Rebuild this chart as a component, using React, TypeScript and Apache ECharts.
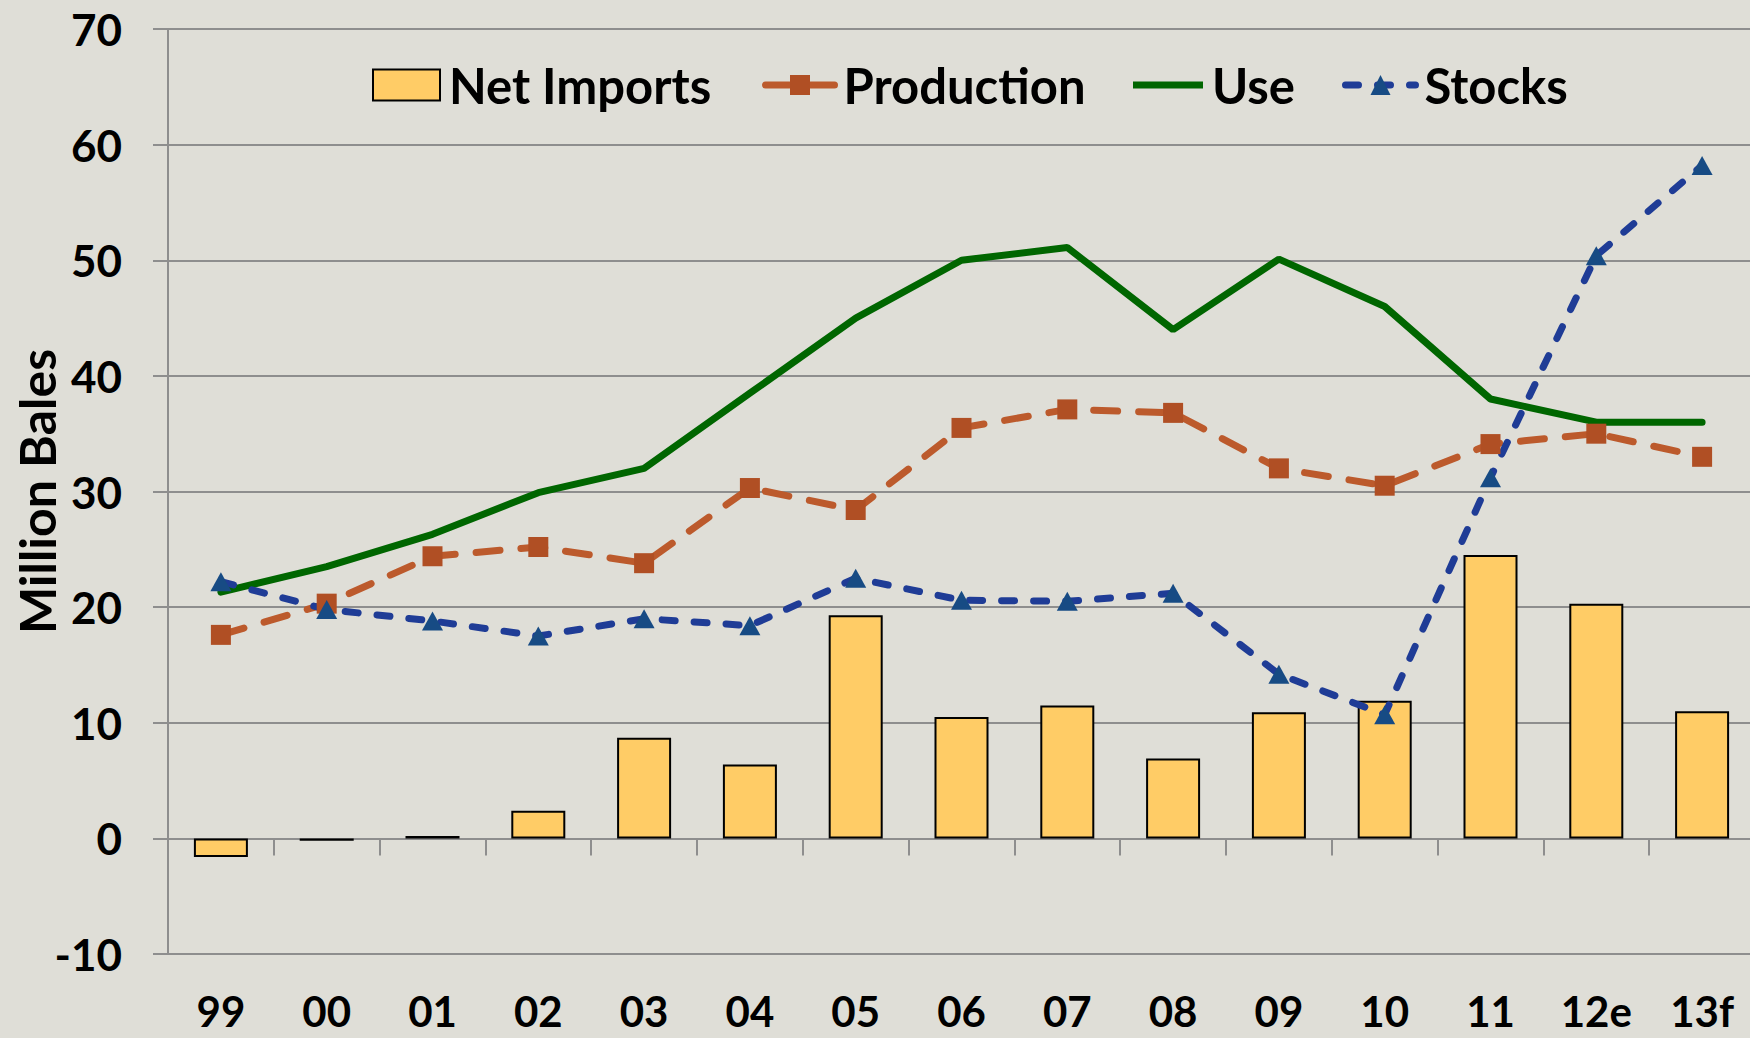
import React, { useEffect, useRef } from "react";
import * as echarts from "echarts";

const categories = ["99", "00", "01", "02", "03", "04", "05", "06", "07", "08", "09", "10", "11", "12e", "13f"];
const netImports = [-1.6, -0.2, 0.2, 2.4, 8.7, 6.4, 19.3, 10.5, 11.5, 6.9, 10.9, 11.9, 24.5, 20.3, 11.0];
const production = [17.6, 20.3, 24.4, 25.2, 23.8, 30.3, 28.4, 35.5, 37.1, 36.8, 32.0, 30.5, 34.1, 35.0, 33.0];
const use = [21.3, 23.5, 26.3, 29.9, 32.0, 38.5, 45.0, 50.0, 51.1, 44.0, 50.1, 46.0, 38.0, 36.0, 36.0];
const stocks = [22.2, 19.8, 18.8, 17.5, 19.0, 18.4, 22.5, 20.6, 20.5, 21.2, 14.2, 10.7, 31.2, 50.4, 58.2];
const yTicks = { min: -10, max: 70, interval: 10 };
const seriesNames = ["Net Imports", "Production", "Use", "Stocks"];

const FONT = "Lato, 'Noto Sans', sans-serif";
const GRID_GRAY = "#8e8e8e";

export default function App() {
  const ref = useRef<HTMLDivElement>(null);
  useEffect(() => {
    if (!ref.current) return;
    const chart = echarts.init(ref.current, null, { renderer: "svg" });
    const legendText = {
      fontFamily: FONT,
      fontWeight: "bold",
      fontSize: 49,
      color: "#000",
      lineHeight: 50,
      padding: [0, 0, 0, 4],
    };
    const legendLefts = [372, 762, 1133, 1342];
    const legendSizes = [
      [67, 31],
      [69, 25],
      [70, 7],
      [70, 25],
    ];
    chart.setOption({
      animation: false,
      backgroundColor: "#dfded7",
      grid: {
        left: 168,
        right: -5,
        top: 29,
        bottom: 84,
        containLabel: false,
        outerBoundsMode: "none",
      },
      legend: seriesNames.map((n, i) => ({
        data: n === "Use" || n === "Net Imports" ? [{ name: n, icon: "rect" }] : [n],
        left: legendLefts[i],
        top: 60,
        padding: 0,
        itemWidth: legendSizes[i][0],
        itemHeight: legendSizes[i][1],
        textStyle: legendText,
        lineStyle: { width: 7 },
        selectedMode: false,
      })),
      xAxis: [
        {
          type: "category",
          data: categories,
          axisLine: { onZero: true, lineStyle: { color: GRID_GRAY, width: 2 } },
          axisTick: { show: true, length: 17, lineStyle: { color: GRID_GRAY, width: 2 } },
          axisLabel: { show: false },
        },
        {
          type: "category",
          data: categories,
          position: "bottom",
          axisLine: { show: false, onZero: false },
          axisTick: { show: false },
          axisLabel: {
            fontFamily: FONT,
            fontWeight: "bold",
            fontSize: 42,
            lineHeight: 40,
            color: "#000",
            margin: 37,
          },
        },
      ],
      yAxis: {
        type: "value",
        min: yTicks.min,
        max: yTicks.max,
        interval: yTicks.interval,
        name: "Million Bales",
        nameLocation: "middle",
        nameRotate: 90,
        nameGap: 106,
        nameMoveOverlap: false,
        nameTextStyle: { fontFamily: FONT, fontWeight: "bold", fontSize: 50, lineHeight: 50, color: "#000" },
        axisLine: { show: true, lineStyle: { color: GRID_GRAY, width: 2 } },
        axisTick: { show: true, length: 15, lineStyle: { color: GRID_GRAY, width: 2 } },
        axisLabel: { fontFamily: FONT, fontWeight: "bold", fontSize: 44, color: "#000", margin: 46 },
        splitLine: { show: true, lineStyle: { color: GRID_GRAY, width: 2 } },
      },
      series: [
        {
          name: "Net Imports",
          type: "bar",
          data: netImports,
          barWidth: 54,
          itemStyle: { color: "#ffcc66", borderColor: "#000", borderWidth: 2 },
        },
        {
          name: "Production",
          type: "line",
          data: production,
          symbol: "rect",
          symbolSize: 20,
          itemStyle: { color: "#b04f24" },
          lineStyle: { color: "#bc5a2c", width: 7, type: [24, 21], cap: "round" },
        },
        {
          name: "Use",
          type: "line",
          data: use,
          symbol: "none",
          itemStyle: { color: "#006600" },
          lineStyle: { color: "#006600", width: 7, cap: "round" },
        },
        {
          name: "Stocks",
          type: "line",
          data: stocks,
          symbol: "triangle",
          symbolSize: [21, 19],
          itemStyle: { color: "#174b84" },
          lineStyle: { color: "#1f3c96", width: 7, type: [13, 19], cap: "round" },
        },
      ],
    });
    return () => chart.dispose();
  }, []);
  return <div ref={ref} style={{ position: "fixed", left: 0, top: 0, width: 1750, height: 1038 }} />;
}
